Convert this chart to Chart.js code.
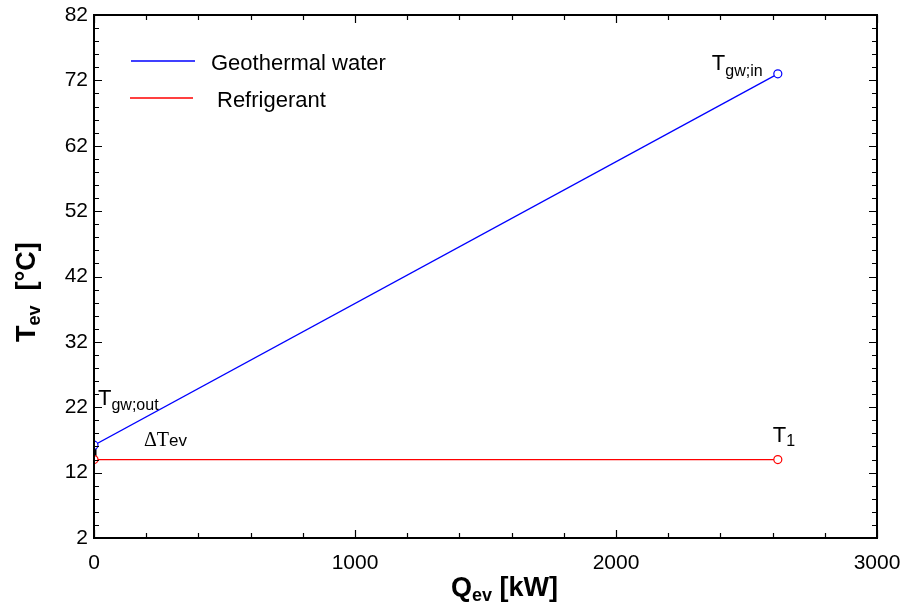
<!DOCTYPE html>
<html>
<head>
<meta charset="utf-8">
<script src="https://cdn.jsdelivr.net/npm/chart.js@4.4.1/dist/chart.umd.min.js"></script>
<style>
  html, body { margin: 0; padding: 0; background: #fff; }
  #wrap { width: 904px; height: 606px; }
</style>
</head>
<body>
<div id="wrap"><canvas id="evapChart" width="904" height="606"></canvas></div>
<script>
// heat load through the evaporator [kW] and the two temperature profiles [°C]
const qEv = [0, 2620];
const tGeothermal = [16.2, 73];
const tRefrigerant = [14, 14];
const seriesNames = ["Geothermal water", "Refrigerant"];
const xTicks = [0, 1000, 2000, 3000];
const yTicks = [2, 12, 22, 32, 42, 52, 62, 72, 82];

const SANS = "'Liberation Sans', Arial, sans-serif";
const SERIF = "'Liberation Serif', 'Times New Roman', serif";

function toPoints(xs, ys) {
  return xs.map((x, i) => ({ x: x, y: ys[i] }));
}

// text with a lowered subscript, returns end x
function subText(ctx, x, y, main, sub, mainFont, subFont, drop) {
  ctx.font = mainFont;
  ctx.fillText(main, x, y);
  const w = ctx.measureText(main).width;
  ctx.font = subFont;
  ctx.fillText(sub, x + w, y + drop);
  return x + w + ctx.measureText(sub).width;
}

const decorPlugin = {
  id: "decor",
  afterDraw(chart) {
    const ctx = chart.ctx;
    const area = chart.chartArea;
    const xs = chart.scales.x;
    const ys = chart.scales.y;
    ctx.save();

    // frame
    ctx.strokeStyle = "#000";
    ctx.lineWidth = 2;
    ctx.strokeRect(area.left, area.top, area.right - area.left, area.bottom - area.top);

    // inward ticks on all four sides
    ctx.lineWidth = 1.2;
    ctx.beginPath();
    for (let v = 0; v <= 3000; v += 200) {
      const px = Math.round(xs.getPixelForValue(v)) + 0.5;
      const len = v % 1000 === 0 ? 8 : 5;
      ctx.moveTo(px, area.bottom); ctx.lineTo(px, area.bottom - len);
      ctx.moveTo(px, area.top); ctx.lineTo(px, area.top + len);
    }
    for (let v = 2; v <= 82; v += 2) {
      const py = Math.round(ys.getPixelForValue(v)) + 0.5;
      const len = (v - 2) % 10 === 0 ? 8 : 5;
      ctx.moveTo(area.left, py); ctx.lineTo(area.left + len, py);
      ctx.moveTo(area.right, py); ctx.lineTo(area.right - len, py);
    }
    ctx.stroke();

    // legend inside the plot
    ctx.textBaseline = "alphabetic";
    ctx.textAlign = "left";
    ctx.fillStyle = "#000";
    const legendRows = [
      { y: 61, x0: 131, x1: 195, tx: 211, ds: chart.data.datasets[0] },
      { y: 98, x0: 130, x1: 193, tx: 217, ds: chart.data.datasets[1] }
    ];
    legendRows.forEach(r => {
      ctx.strokeStyle = r.ds.borderColor;
      ctx.lineWidth = 1.5;
      ctx.beginPath();
      ctx.moveTo(r.x0, r.y); ctx.lineTo(r.x1, r.y);
      ctx.stroke();
      ctx.font = "22px " + SANS;
      ctx.fillText(r.ds.label, r.tx, r.y + 9);
    });

    // point labels, placed relative to the end points
    const gin = { x: xs.getPixelForValue(qEv[1]), y: ys.getPixelForValue(tGeothermal[1]) };
    const gout = { x: xs.getPixelForValue(qEv[0]), y: ys.getPixelForValue(tGeothermal[0]) };
    const t1 = { x: xs.getPixelForValue(qEv[1]), y: ys.getPixelForValue(tRefrigerant[1]) };
    const r0 = { x: xs.getPixelForValue(qEv[0]), y: ys.getPixelForValue(tRefrigerant[0]) };
    const big = "22px " + SANS;
    const small = "16px " + SANS;
    subText(ctx, gin.x - 66, gin.y - 4, "T", "gw;in", big, small, 6);
    subText(ctx, gout.x + 4, gout.y - 40, "T", "gw;out", big, small, 5);
    subText(ctx, t1.x - 5, t1.y - 18, "T", "1", big, small, 4);
    subText(ctx, r0.x + 50, r0.y - 14, "\u0394T", "ev", "20px " + SERIF, "17px " + SANS, 0);

    // axis titles
    const bold = "bold 27px " + SANS;
    const boldSub = "bold 18px " + SANS;
    ctx.font = bold;
    let x = subText(ctx, 451, 596, "Q", "ev", bold, boldSub, 5);
    ctx.font = bold;
    ctx.fillText(" [kW]", x, 596);

    ctx.translate(35, 342);
    ctx.rotate(-Math.PI / 2);
    x = subText(ctx, 0, 0, "T", "ev", bold, boldSub, 5);
    ctx.font = bold;
    ctx.fillText("  [\u00B0C]", x, 0);

    ctx.restore();
  }
};

new Chart(document.getElementById("evapChart"), {
  type: "scatter",
  data: {
    datasets: [
      {
        label: seriesNames[0],
        data: toPoints(qEv, tGeothermal),
        showLine: true,
        borderColor: "#0000ff",
        borderWidth: 1.3,
        pointRadius: 4,
        pointBorderWidth: 1.2,
        pointBackgroundColor: "#fff",
        pointBorderColor: "#0000ff"
      },
      {
        label: seriesNames[1],
        data: toPoints(qEv, tRefrigerant),
        showLine: true,
        borderColor: "#ff0000",
        borderWidth: 1.3,
        pointRadius: 4,
        pointBorderWidth: 1.2,
        pointBackgroundColor: "#fff",
        pointBorderColor: "#ff0000"
      },
      {
        // the temperature gap at the cold end
        label: "dT",
        data: [{ x: qEv[0], y: tGeothermal[0] }, { x: qEv[0], y: tRefrigerant[0] }],
        showLine: true,
        borderColor: "#000",
        borderWidth: 5,
        pointRadius: 0
      }
    ]
  },
  options: {
    responsive: false,
    animation: false,
    layout: { padding: { left: 0, top: 15, right: 27, bottom: 0 } },
    plugins: {
      legend: { display: false },
      tooltip: { enabled: false }
    },
    scales: {
      x: {
        type: "linear",
        min: 0,
        max: 3000,
        afterBuildTicks: s => { s.ticks = xTicks.map(v => ({ value: v })); },
        afterFit: s => { s.height = 68; s.paddingLeft = 0; s.paddingRight = 0; },
        grid: { display: false, drawTicks: false },
        border: { display: false },
        ticks: { color: "#000", padding: 13, font: { family: SANS, size: 21 }, callback: v => String(v) }
      },
      y: {
        type: "linear",
        min: 2,
        max: 82,
        afterBuildTicks: s => { s.ticks = yTicks.map(v => ({ value: v })); },
        afterFit: s => { s.width = 94; s.paddingTop = 0; s.paddingBottom = 0; },
        grid: { display: false, drawTicks: false },
        border: { display: false },
        ticks: { color: "#000", padding: 6, font: { family: SANS, size: 21 }, callback: v => String(v) }
      }
    }
  },
  plugins: [decorPlugin]
});
</script>
</body>
</html>
